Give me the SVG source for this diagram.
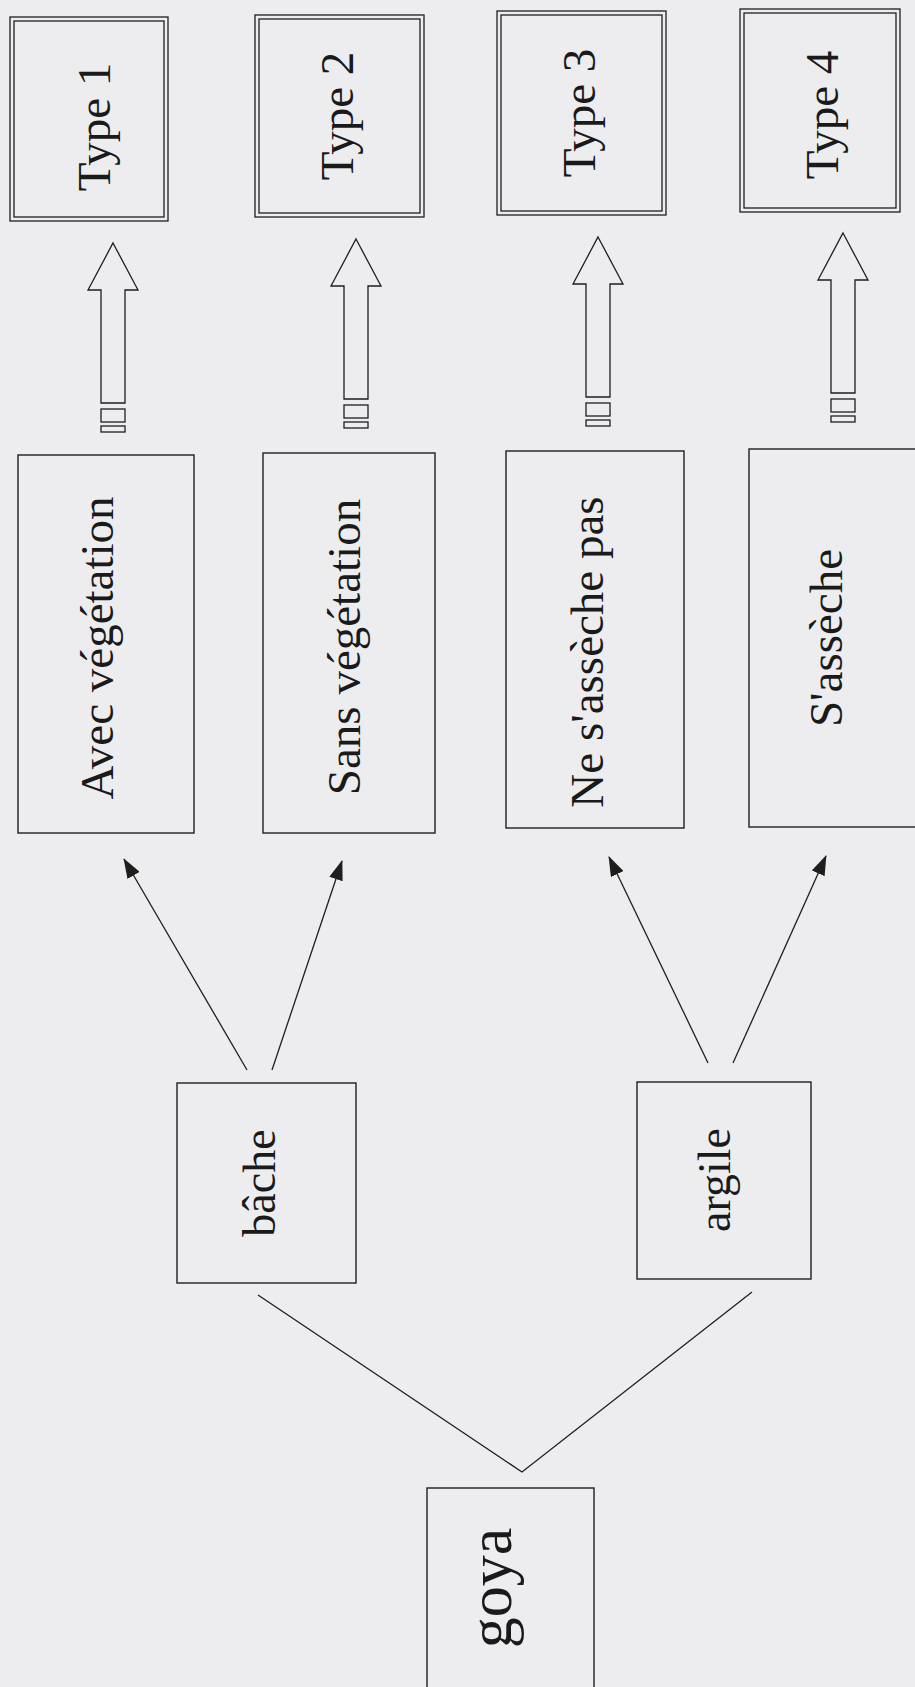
<svg xmlns="http://www.w3.org/2000/svg" width="915" height="1687" viewBox="0 0 915 1687">
<style>
.bg{fill:#ededf0}
.box{fill:none;stroke:#1e1e1e;stroke-width:1.4}
.dbl{fill:none;stroke:#1e1e1e;stroke-width:1.3}
.arr{fill:none;stroke:#1e1e1e;stroke-width:1.3}
.lbl{font-family:"Liberation Serif","Times New Roman",serif;fill:#1a1a1a;text-anchor:middle}
.con{fill:none;stroke:#1e1e1e;stroke-width:1.3}
</style>
<defs>
<marker id="ah" viewBox="0 0 20 14" refX="19" refY="7" markerWidth="20" markerHeight="14" markerUnits="userSpaceOnUse" orient="auto"><path d="M0,0 L20,7 L0,14 Z" fill="#1e1e1e"/></marker>
<g id="blockArrow">
<path d="M0,0 L25,47 L12,47 L12,160 L-12,160 L-12,47 L-25,47 Z" class="arr"/>
<rect x="-12" y="166" width="24" height="13" class="arr"/>
<rect x="-12" y="183" width="24" height="6" class="arr"/>
</g>
</defs>
<rect class="bg" x="0" y="0" width="915" height="1687"/>

<g id="type1">
<rect class="dbl" x="10" y="17" width="158" height="204"/>
<rect class="dbl" x="14" y="21" width="150" height="196"/>
<text class="lbl" font-size="47" transform="translate(110,127) rotate(-90)">Type 1</text>
</g>
<g id="type2">
<rect class="dbl" x="255" y="15" width="169" height="202"/>
<rect class="dbl" x="259" y="19" width="161" height="194"/>
<text class="lbl" font-size="47" transform="translate(353,116) rotate(-90)">Type 2</text>
</g>
<g id="type3">
<rect class="dbl" x="497" y="11" width="169" height="204"/>
<rect class="dbl" x="501" y="15" width="161" height="196"/>
<text class="lbl" font-size="47" transform="translate(595,113) rotate(-90)">Type 3</text>
</g>
<g id="type4">
<rect class="dbl" x="740" y="9" width="160" height="203"/>
<rect class="dbl" x="744" y="13" width="152" height="195"/>
<text class="lbl" font-size="47" transform="translate(838,115) rotate(-90)">Type 4</text>
</g>

<g id="avec">
<rect class="box" x="18" y="455" width="176" height="378"/>
<text class="lbl" font-size="47" transform="translate(113,648) rotate(-90)">Avec végétation</text>
</g>
<g id="sans">
<rect class="box" x="263" y="453" width="172" height="380"/>
<text class="lbl" font-size="47" transform="translate(360,647) rotate(-90)">Sans végétation</text>
</g>
<g id="ne">
<rect class="box" x="506" y="451" width="178" height="377"/>
<text class="lbl" font-size="47" transform="translate(603,652) rotate(-90)">Ne s'assèche pas</text>
</g>
<g id="sasseche">
<rect class="box" x="749" y="449" width="180" height="378"/>
<text class="lbl" font-size="47" transform="translate(842,638) rotate(-90)">S'assèche</text>
</g>

<g id="bache">
<rect class="box" x="177" y="1083" width="179" height="200"/>
<text class="lbl" font-size="46" transform="translate(275,1183) rotate(-90)">bâche</text>
</g>
<g id="argile">
<rect class="box" x="637" y="1082" width="174" height="197"/>
<text class="lbl" font-size="46" transform="translate(730,1180) rotate(-90)">argile</text>
</g>
<g id="goya">
<rect class="box" x="427" y="1488" width="167" height="220"/>
<text class="lbl" font-size="62" transform="translate(511,1588) rotate(-90)">goya</text>
</g>

<g id="connectors">
<use href="#blockArrow" x="113" y="243"/>
<use href="#blockArrow" x="356" y="239"/>
<use href="#blockArrow" x="598" y="237"/>
<use href="#blockArrow" x="843" y="233"/>
<line class="con" x1="247" y1="1070" x2="124" y2="859" marker-end="url(#ah)"/>
<line class="con" x1="272" y1="1070" x2="342" y2="861" marker-end="url(#ah)"/>
<line class="con" x1="708" y1="1063" x2="609" y2="857" marker-end="url(#ah)"/>
<line class="con" x1="733" y1="1063" x2="826" y2="856" marker-end="url(#ah)"/>
<polyline class="con" points="258,1295 522,1472 752,1292"/>
</g>
</svg>
